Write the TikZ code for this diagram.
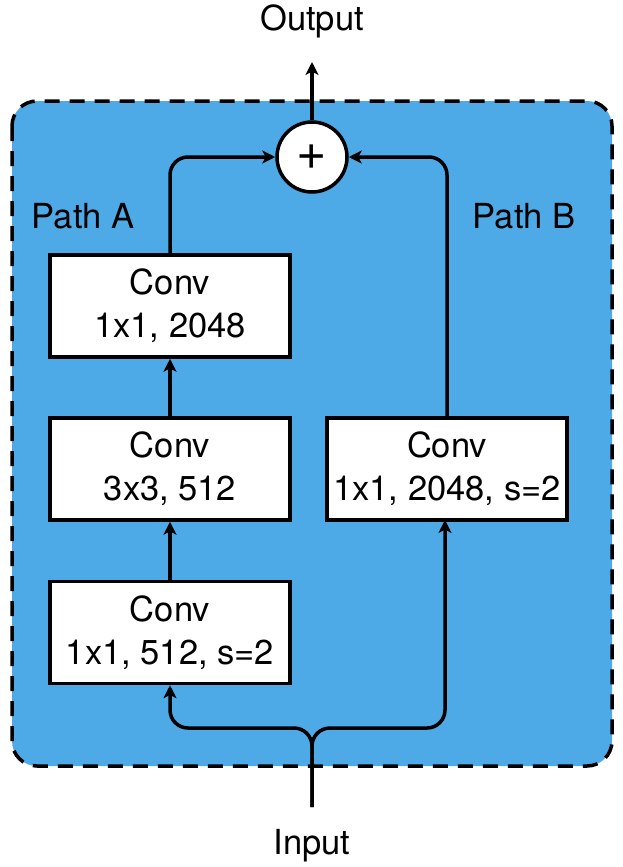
\documentclass[tikz,border=0pt]{standalone}
\usepackage{fontspec}
\setmainfont{TeX Gyre Heros}
\usetikzlibrary{arrows.meta}
\definecolor{panelblue}{RGB}{78,169,231}
\begin{document}
\begin{tikzpicture}[x=1pt,y=-1pt,
  every node/.style={font=\fontsize{34.5}{41}\selectfont},
  convbox/.style={draw=black,line width=3.5pt,fill=white,minimum width=240pt,minimum height=102pt,align=center,inner sep=0pt},
  conn/.style={line width=3.5pt,rounded corners=18pt,-{Stealth[length=13pt,width=13pt,inset=3.5pt]}},
  lbl/.style={inner sep=0pt}]
\useasboundingbox (0,0) rectangle (622,867);
\fill[panelblue,rounded corners=25pt] (12,101) rectangle (612,766);
\draw[line width=3.5pt,dash pattern=on 15pt off 10pt,rounded corners=25pt] (12,101) rectangle (612,766);

\node[convbox] (a3) at (170,306) {Conv\\[2pt]1x1, 2048};
\node[convbox] (a2) at (170,469) {Conv\\[2pt]3x3, 512};
\node[convbox] (a1) at (170,632.5) {Conv\\[2pt]1x1, 512, s=2};
\node[convbox] (b) at (447,469) {Conv\\[2pt]1x1, 2048, s=2};

\node[circle,draw=black,line width=3.5pt,fill=white,minimum size=70pt,inner sep=0pt,font=\fontsize{52}{52}\selectfont] (plus) at (312,157) {+};

\node[lbl] (pa) at (83,216) {Path A};
\node[lbl] (pb) at (524,216) {Path B};
\node[lbl,anchor=south] (out) at (312,38) {Output};
\node[lbl] (inp) at (312,846) {Input};
\coordinate (start) at (312,807);
\coordinate (outtip) at (312,62);

\draw[conn] (a1.north) -- (a2.south);
\draw[conn] (a2.north) -- (a3.south);
\draw[conn] (a3.north) |- (plus.west);
\draw[conn] (b.north) |- (plus.east);
\draw[conn] (plus.north) -- (outtip);
\draw[conn] (start) -- (312,728) -- (170,728) -- (a1.south);
\draw[conn] (start) -- (312,728) -- (445,728) -- (445,520);
\end{tikzpicture}
\end{document}
